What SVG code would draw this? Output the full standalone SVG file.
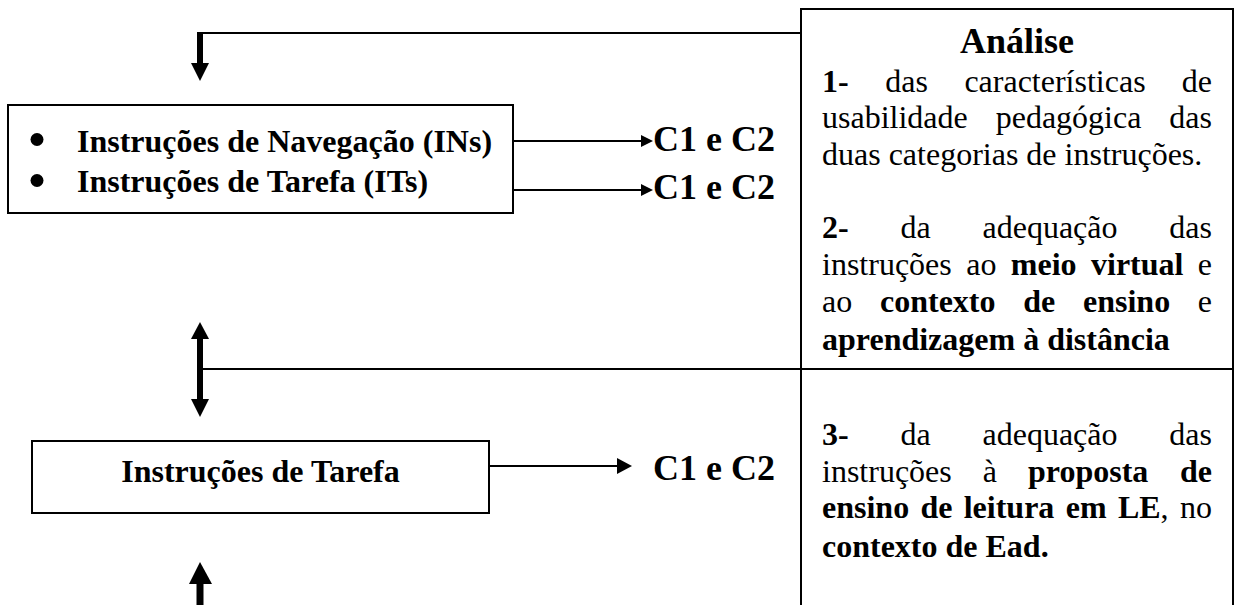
<svg xmlns="http://www.w3.org/2000/svg" width="1237" height="605" viewBox="0 0 1237 605">
<style>
text{font-family:"Liberation Serif","Times New Roman",serif;fill:#000}
.b{font-weight:bold}
.box{fill:#fff;stroke:#000;stroke-width:2}
.ln{fill:none;stroke:#000;stroke-width:2}
.thick{fill:none;stroke:#000;stroke-width:6}
.hd{fill:#000;stroke:none}
.t32{font-size:32px}
.t36{font-size:36px;font-weight:bold}
</style>
<rect width="1237" height="605" fill="#fff"/>
<g id="connectors">
<path class="ln" d="M801,33 H199"/>
<line class="thick" x1="200" y1="32" x2="200" y2="64"/>
<polygon class="hd" points="191,63 209,63 200,81"/>
<path class="ln" d="M200,369 H1233"/>
<line class="thick" x1="200" y1="338" x2="200" y2="400"/>
<polygon class="hd" points="191,339 209,339 200,322"/>
<polygon class="hd" points="191,399 209,399 200,417"/>
<line class="thick" x1="200" y1="583" x2="200" y2="606" style="stroke-width:7"/>
<polygon class="hd" points="189,584 212,584 200,562"/>
<line class="ln" x1="513" y1="141" x2="642" y2="141"/>
<polygon class="hd" points="641,135 653,141 641,147"/>
<line class="ln" x1="513" y1="190" x2="642" y2="190"/>
<polygon class="hd" points="641,184 653,190 641,196"/>
<line class="ln" x1="489" y1="466" x2="618" y2="466"/>
<polygon class="hd" points="617,458 632,466 617,474"/>
</g>
<g id="node-instrucoes">
<rect class="box" x="8" y="105" width="505" height="108"/>
<circle cx="37" cy="139.5" r="6.5"/>
<circle cx="37" cy="180.5" r="6.5"/>
<text class="t32 b" x="77" y="152">Instruções de Navegação (INs)</text>
<text class="t32 b" x="77" y="192">Instruções de Tarefa (ITs)</text>
</g>
<g id="node-c1c2-a">
<text class="t36" x="653" y="151">C1 e C2</text>
</g>
<g id="node-c1c2-b">
<text class="t36" x="653" y="199">C1 e C2</text>
</g>
<g id="node-tarefa">
<rect class="box" x="32" y="441" width="457" height="72"/>
<text class="t32 b" x="260.5" y="482" text-anchor="middle">Instruções de Tarefa</text>
</g>
<g id="node-c1c2-c">
<text class="t36" x="653" y="480">C1 e C2</text>
</g>
<g id="node-analise">
<path class="ln" d="M801,606 V9 H1233 V606"/>
<text class="t36" x="1017" y="53" text-anchor="middle">Análise</text>
<text class="t32"><tspan class="b" x="822" y="92">1-</tspan><tspan x="885.2" y="92">das</tspan><tspan x="964.4" y="92">características</tspan><tspan x="1181.8" y="92">de</tspan></text>
<text class="t32"><tspan x="822" y="128">usabilidade</tspan><tspan x="995.7" y="128">pedagógica</tspan><tspan x="1169.3" y="128">das</tspan></text>
<text class="t32" x="822" y="165">duas categorias de instruções.</text>
<text class="t32"><tspan class="b" x="822" y="238">2-</tspan><tspan x="900.5" y="238">da</tspan><tspan x="982.5" y="238">adequação</tspan><tspan x="1169.3" y="238">das</tspan></text>
<text class="t32"><tspan x="822" y="275">instruções</tspan><tspan x="966.2" y="275">ao</tspan><tspan class="b" x="1010.8" y="275">meio</tspan><tspan class="b" x="1091" y="275">virtual</tspan><tspan x="1197.8" y="275">e</tspan></text>
<text class="t32"><tspan x="822" y="312">ao</tspan><tspan class="b" x="880" y="312">contexto</tspan><tspan class="b" x="1023.2" y="312">de</tspan><tspan class="b" x="1083" y="312">ensino</tspan><tspan x="1197.8" y="312">e</tspan></text>
<text class="t32 b" x="822" y="350">aprendizagem à distância</text>
<text class="t32"><tspan class="b" x="822" y="445">3-</tspan><tspan x="900.5" y="445">da</tspan><tspan x="982.5" y="445">adequação</tspan><tspan x="1169.3" y="445">das</tspan></text>
<text class="t32"><tspan x="822" y="482">instruções</tspan><tspan x="982.8" y="482">à</tspan><tspan class="b" x="1028" y="482">proposta</tspan><tspan class="b" x="1180" y="482">de</tspan></text>
<text class="t32"><tspan class="b" x="822" y="518">ensino</tspan><tspan class="b" x="920.4" y="518">de</tspan><tspan class="b" x="963.7" y="518">leitura</tspan><tspan class="b" x="1065.7" y="518">em</tspan><tspan class="b" x="1117.9" y="518">LE</tspan><tspan>,</tspan><tspan x="1180" y="518">no</tspan></text>
<text class="t32 b" x="822" y="557">contexto de Ead.</text>
</g>
</svg>
